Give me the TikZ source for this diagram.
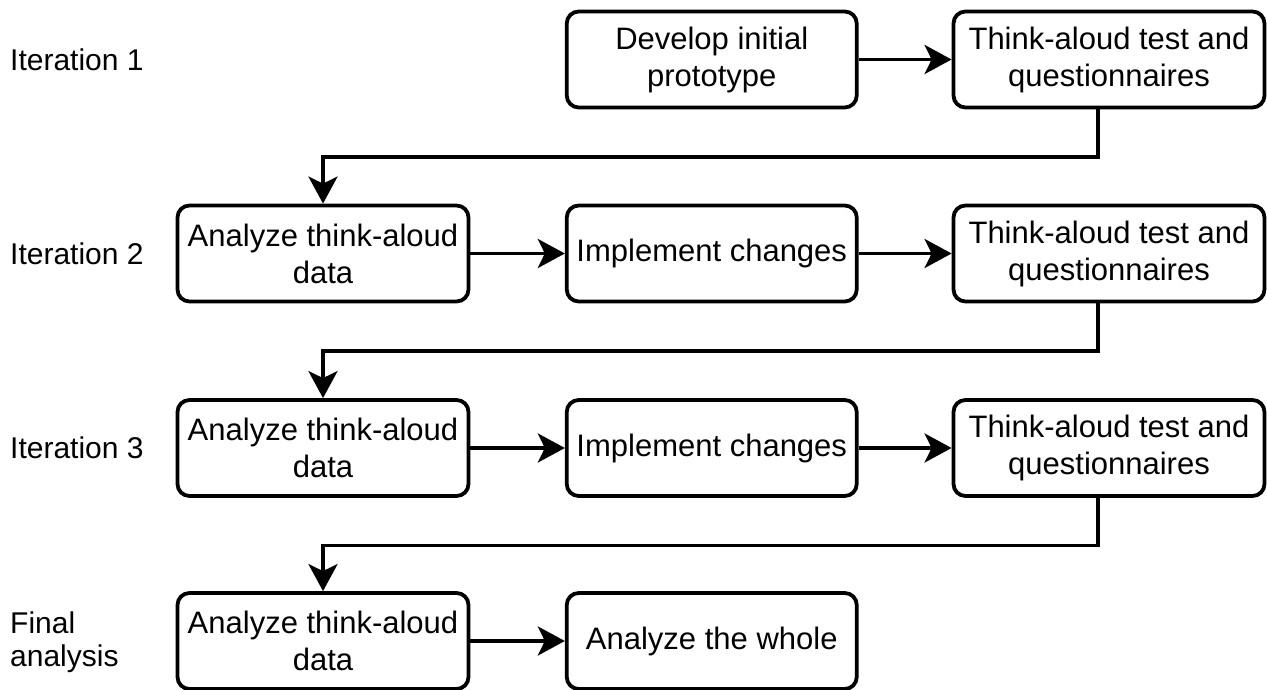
\documentclass[tikz,border=0pt]{standalone}
\usepackage{fontspec}
\setmainfont{Liberation Sans}
\usetikzlibrary{arrows.meta}
\begin{document}
\begin{tikzpicture}[x=1pt,y=-1pt,
  box/.style={draw, line width=3.8pt, rounded corners=12pt, minimum height=96pt, inner sep=0pt, align=center, font=\fontsize{31}{37}\selectfont},
  colA/.style={box, minimum width=291pt},
  colB/.style={box, minimum width=290pt},
  colC/.style={box, minimum width=311pt},
  lab/.style={anchor=west, inner sep=0pt, align=left, font=\fontsize{30}{33}\selectfont},
  arr/.style={line width=3.8pt, -{Stealth[length=27pt,width=29pt,inset=7pt]}}]
\useasboundingbox (0,0) rectangle (1267,690);
% row labels
\node[lab] (L1) at (10,59.5) {Iteration 1};
\node[lab] (L2) at (10,253.5) {Iteration 2};
\node[lab] (L3) at (10,448) {Iteration 3};
\node[lab] (L4) at (10,642) {Final\\analysis};
% row 1
\node[colB] (D) at (711.75,59.5) {Develop initial\\prototype};
\node[colC] (T1) at (1109,59.5) {Think-aloud test and\\questionnaires};
% row 2
\node[colA] (A2) at (323,253.5) {Analyze think-aloud\\data};
\node[colB] (I2) at (711.75,253.5) {Implement changes};
\node[colC] (T2) at (1109,253.5) {Think-aloud test and\\questionnaires};
% row 3
\node[colA] (A3) at (323,448) {Analyze think-aloud\\data};
\node[colB] (I3) at (711.75,448) {Implement changes};
\node[colC] (T3) at (1109,448) {Think-aloud test and\\questionnaires};
% row 4
\node[colA] (A4) at (323,641) {Analyze think-aloud\\data};
\node[colB] (W) at (711.75,641) {Analyze the whole};
% helper coordinates
\coordinate (x1) at (1098,0);
\coordinate (h1) at (0,157);
\coordinate (h2) at (0,351);
\coordinate (h3) at (0,545.5);
% connectors
\draw[arr] (D) -- (T1);
\draw[arr] (A2) -- (I2);
\draw[arr] (I2) -- (T2);
\draw[arr] (A3) -- (I3);
\draw[arr] (I3) -- (T3);
\draw[arr] (A4) -- (W);
\draw[arr] (T1.south -| x1) |- (A2.north |- h1) -- (A2.north);
\draw[arr] (T2.south -| x1) |- (A3.north |- h2) -- (A3.north);
\draw[arr] (T3.south -| x1) |- (A4.north |- h3) -- (A4.north);
\end{tikzpicture}
\end{document}
